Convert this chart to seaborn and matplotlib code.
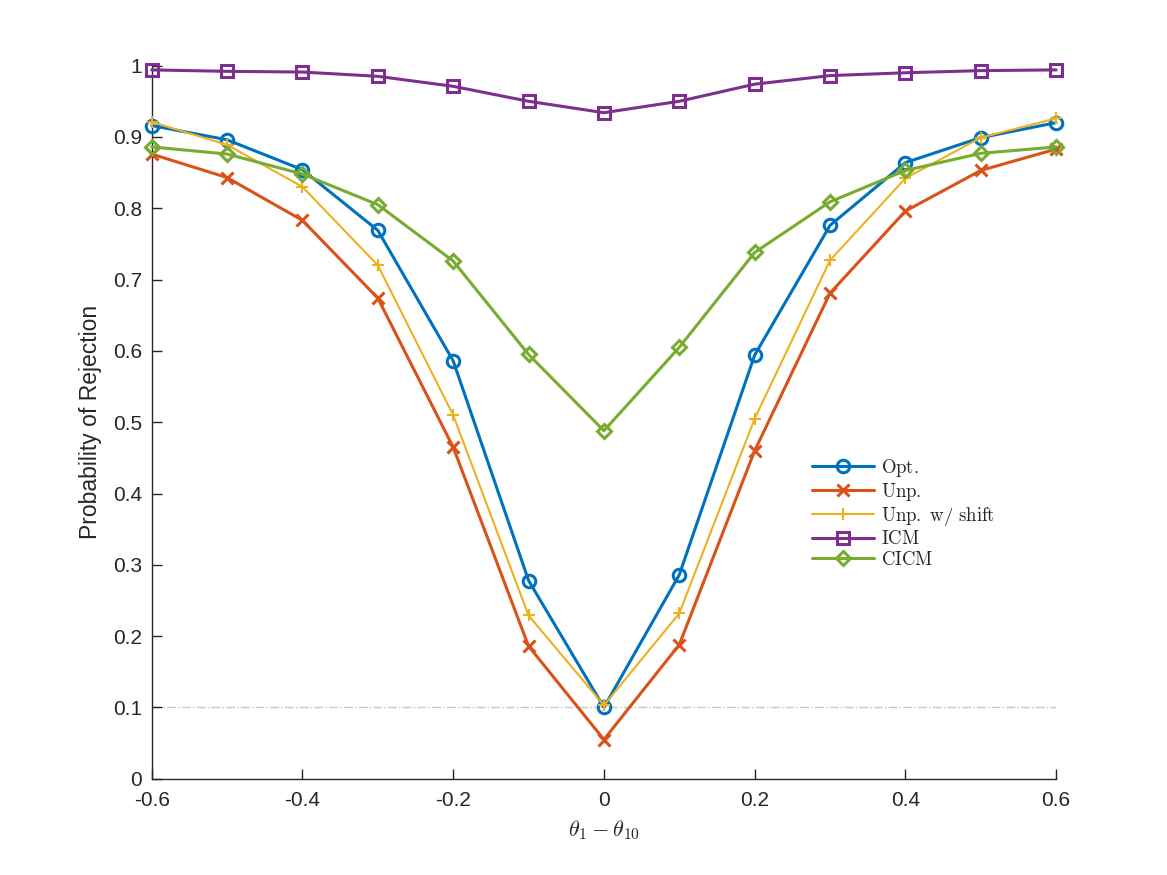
import numpy as np
import pandas as pd
import seaborn as sns
import matplotlib.pyplot as plt

# x axis: theta_1 - theta_10
theta_diff = [-0.6, -0.5, -0.4, -0.3, -0.2, -0.1, 0.0, 0.1, 0.2, 0.3, 0.4, 0.5, 0.6]

# rejection probabilities
opt = [0.916, 0.896, 0.854, 0.769, 0.586, 0.278, 0.100, 0.286, 0.594, 0.776, 0.864, 0.899, 0.920]
unp = [0.876, 0.843, 0.783, 0.674, 0.465, 0.186, 0.055, 0.188, 0.460, 0.681, 0.796, 0.853, 0.883]
unp_shift = [0.921, 0.889, 0.830, 0.720, 0.510, 0.229, 0.103, 0.232, 0.505, 0.727, 0.842, 0.899, 0.926]
icm = [0.994, 0.992, 0.991, 0.985, 0.971, 0.950, 0.934, 0.950, 0.974, 0.986, 0.990, 0.993, 0.994]
cicm = [0.886, 0.876, 0.848, 0.805, 0.726, 0.595, 0.488, 0.605, 0.738, 0.809, 0.853, 0.877, 0.886]

alpha_level = 0.1

series = [
    (r'$\mathrm{Opt.}$', opt, '#0072BD', 'o', 2.2, 9),
    (r'$\mathrm{Unp.}$', unp, '#D95319', 'x', 2.2, 9),
    (r'$\mathrm{Unp.\ w/\ shift}$', unp_shift, '#EDB120', '+', 1.5, 9),
    (r'$\mathrm{ICM}$', icm, '#7E2F8E', 's', 2.2, 8),
    (r'$\mathrm{CICM}$', cicm, '#77AC30', 'D', 2.2, 7.5),
]

sns.set_style('ticks')
plt.rcParams['font.family'] = ['Liberation Sans', 'DejaVu Sans']
plt.rcParams['mathtext.fontset'] = 'cm'

fig = plt.figure(figsize=(11.67, 8.75), dpi=100)
ax = fig.add_axes([0.13, 0.11, 0.775, 0.815])

for label, vals, color, marker, lw, ms in series:
    df = pd.DataFrame({'theta': theta_diff, 'p': vals})
    sns.lineplot(data=df, x='theta', y='p', ax=ax, color=color, linewidth=lw,
                 marker=marker, markersize=ms, markerfacecolor='none',
                 markeredgecolor=color, markeredgewidth=lw, label=label,
                 clip_on=False, zorder=3)

# nominal level reference line
ax.plot([theta_diff[0], theta_diff[-1]], [alpha_level, alpha_level],
        color='#c8c8c8', linestyle='-.', linewidth=1.0, zorder=0)

ax.set_xlim(-0.6, 0.6)
ax.set_ylim(0, 1)
ax.set_xticks([-0.6, -0.4, -0.2, 0, 0.2, 0.4, 0.6])
ax.set_xticklabels(['-0.6', '-0.4', '-0.2', '0', '0.2', '0.4', '0.6'])
ax.set_yticks(np.arange(0, 1.01, 0.1))
ax.set_yticklabels(['0', '0.1', '0.2', '0.3', '0.4', '0.5', '0.6', '0.7', '0.8', '0.9', '1'])

for s in ['top', 'right']:
    ax.spines[s].set_visible(False)
for s in ['left', 'bottom']:
    ax.spines[s].set_color('#262626')
    ax.spines[s].set_linewidth(1.0)
ax.tick_params(direction='in', length=7, width=1.0, colors='#262626',
               labelsize=15, pad=7)
ax.tick_params(axis='x', pad=9)

ax.set_xlabel(r'$\theta_1 - \theta_{10}$', fontsize=16, color='#262626', labelpad=6)
ax.set_ylabel('Probability of Rejection', fontsize=16.5, color='#262626', labelpad=8)

ax.legend(loc='upper left', bbox_to_anchor=(0.72, 0.465), frameon=False,
          fontsize=13.5, handlelength=3.3, handletextpad=0.35,
          labelspacing=0.12, borderpad=0)

fig.savefig('out.png', dpi=100)
plt.close(fig)
